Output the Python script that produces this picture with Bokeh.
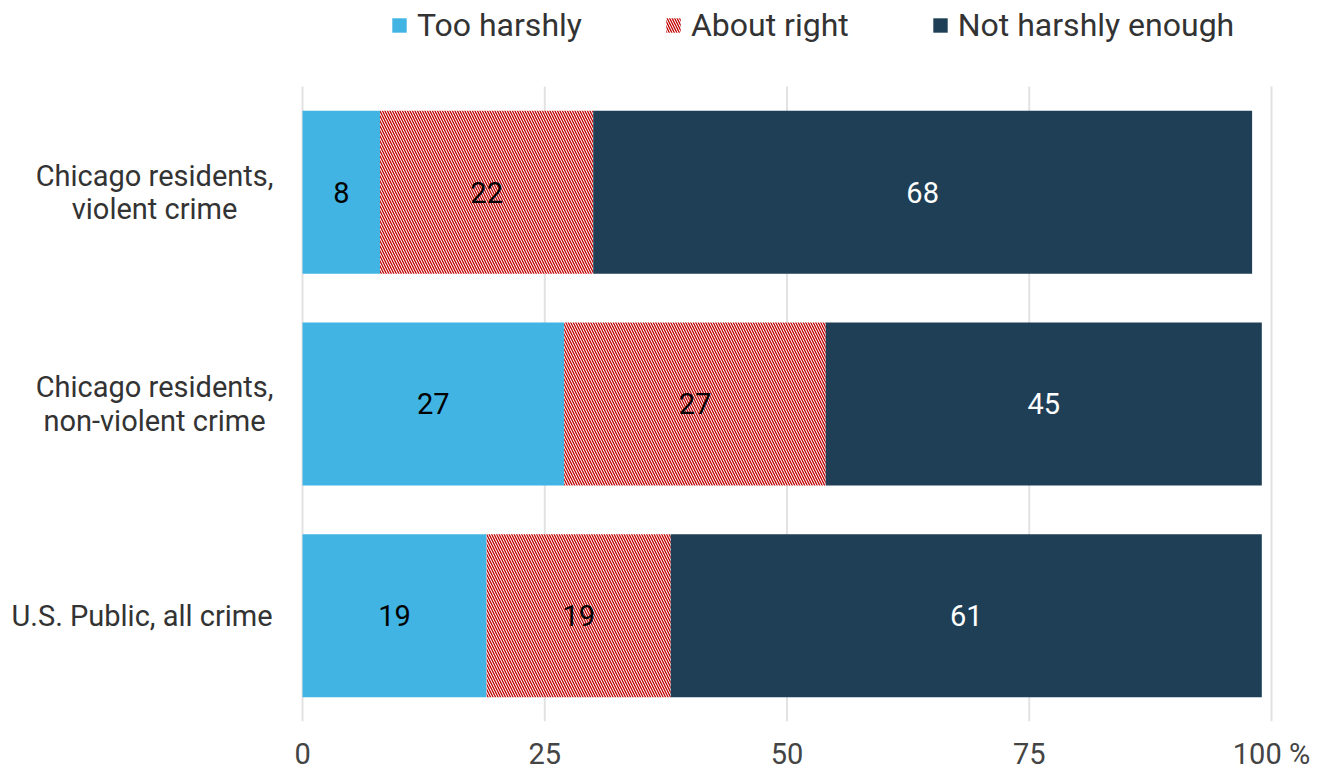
from bokeh.plotting import figure
from bokeh.models import Range1d, Legend, LegendItem, FixedTicker, ColumnDataSource
from bokeh.embed import file_html
from bokeh.resources import INLINE
from bokeh.core.properties import value

categories = ["Chicago residents,\nviolent crime", "Chicago residents,\nnon-violent crime", "U.S. Public, all crime"]
too_harshly = [8, 27, 19]
about_right = [22, 27, 19]
not_enough = [68, 45, 61]
series_names = ["Too harshly", "About right", "Not harshly enough"]
x_ticks = [0, 25, 50, 75, 100]
x_tick_labels = {0: "0", 25: "25", 50: "50", 75: "75", 100: "100 %"}

FONT = "Roboto"
C_LIGHT = "#41b4e3"
C_DARK = "#1e3f56"
C_HATCH = "#c00000"
LABEL_X = [-15.27, -15.27, -16.56]   # centre of each category label block (style/layout)

n = len(categories)
ypos = [n - i - 0.5 for i in range(n)]   # top category first

# layout: the frame spans the whole canvas except the x-axis strip at the bottom
p = figure(width=1333, height=773, output_backend="svg", toolbar_location=None,
           x_range=Range1d(-31.17, 106.40), y_range=Range1d(0, 3.406),
           min_border_left=0, min_border_right=0, min_border_top=0, min_border_bottom=0)
p.outline_line_color = None
p.background_fill_color = "white"
p.border_fill_color = "white"
p.yaxis.visible = False
p.xgrid.grid_line_color = None
p.ygrid.grid_line_color = None

# vertical grid lines at the tick values, only across the bar area
p.segment(x0=x_ticks, y0=[0] * len(x_ticks), x1=x_ticks, y1=[n] * len(x_ticks),
          line_color="#e2e2e2", line_width=2)

left1 = [0] * n
right1 = list(too_harshly)
left2 = right1
right2 = [a + b for a, b in zip(too_harshly, about_right)]
left3 = right2
right3 = [a + b + c for a, b, c in zip(too_harshly, about_right, not_enough)]

src = ColumnDataSource(dict(y=ypos, cat=categories, l1=left1, r1=right1, l2=left2, r2=right2, l3=left3, r3=right3,
                            v1=[str(v) for v in too_harshly], v2=[str(v) for v in about_right], v3=[str(v) for v in not_enough],
                            m1=[(a + b) / 2 for a, b in zip(left1, right1)],
                            m2=[(a + b) / 2 for a, b in zip(left2, right2)],
                            m3=[(a + b) / 2 for a, b in zip(left3, right3)],
                            lx=LABEL_X))

H = 0.77
r1 = p.hbar(y="y", left="l1", right="r1", height=H, source=src, fill_color=C_LIGHT, line_color=None)
r2 = p.hbar(y="y", left="l2", right="r2", height=H, source=src, fill_color="white", line_color=None,
            hatch_pattern="left_diagonal_line", hatch_color=C_HATCH, hatch_scale=5, hatch_weight=1.3)
r3 = p.hbar(y="y", left="l3", right="r3", height=H, source=src, fill_color=C_DARK, line_color=None)

for mid, txt, col in (("m1", "v1", "black"), ("m2", "v2", "black"), ("m3", "v3", "white")):
    p.text(x=mid, y="y", text=txt, source=src, text_align="center", text_baseline="middle",
           text_font=value(FONT), text_font_size="29px", text_color=col)

# category labels, centred within their block like the reference
p.text(x="lx", y="y", text="cat", source=src, text_align="center", text_baseline="middle",
       text_font=value(FONT), text_font_size="29px", text_color="#333333", text_line_height=0.98)

# x axis
p.xaxis.ticker = FixedTicker(ticks=x_ticks)
p.xaxis.major_label_overrides = x_tick_labels
p.xaxis.axis_line_color = None
p.xaxis.major_tick_line_color = None
p.xaxis.minor_tick_line_color = None
p.xaxis.major_tick_out = 0
p.xaxis.major_tick_in = 0
p.xaxis.minor_tick_out = 0
p.xaxis.major_label_text_font = FONT
p.xaxis.major_label_text_font_size = "29px"
p.xaxis.major_label_text_color = "#444444"
p.xaxis.major_label_standoff = 15

legend = Legend(items=[LegendItem(label=series_names[0], renderers=[r1]),
                       LegendItem(label=series_names[1], renderers=[r2]),
                       LegendItem(label=series_names[2], renderers=[r3])],
                orientation="horizontal", location=(390, 677),
                label_text_font=FONT, label_text_font_size="32px", label_text_color="#333333",
                glyph_width=18, glyph_height=18, label_standoff=9, spacing=82,
                border_line_color=None, background_fill_alpha=0, padding=0, margin=0)
p.add_layout(legend)

open("out.html", "w").write(file_html(p, INLINE))
